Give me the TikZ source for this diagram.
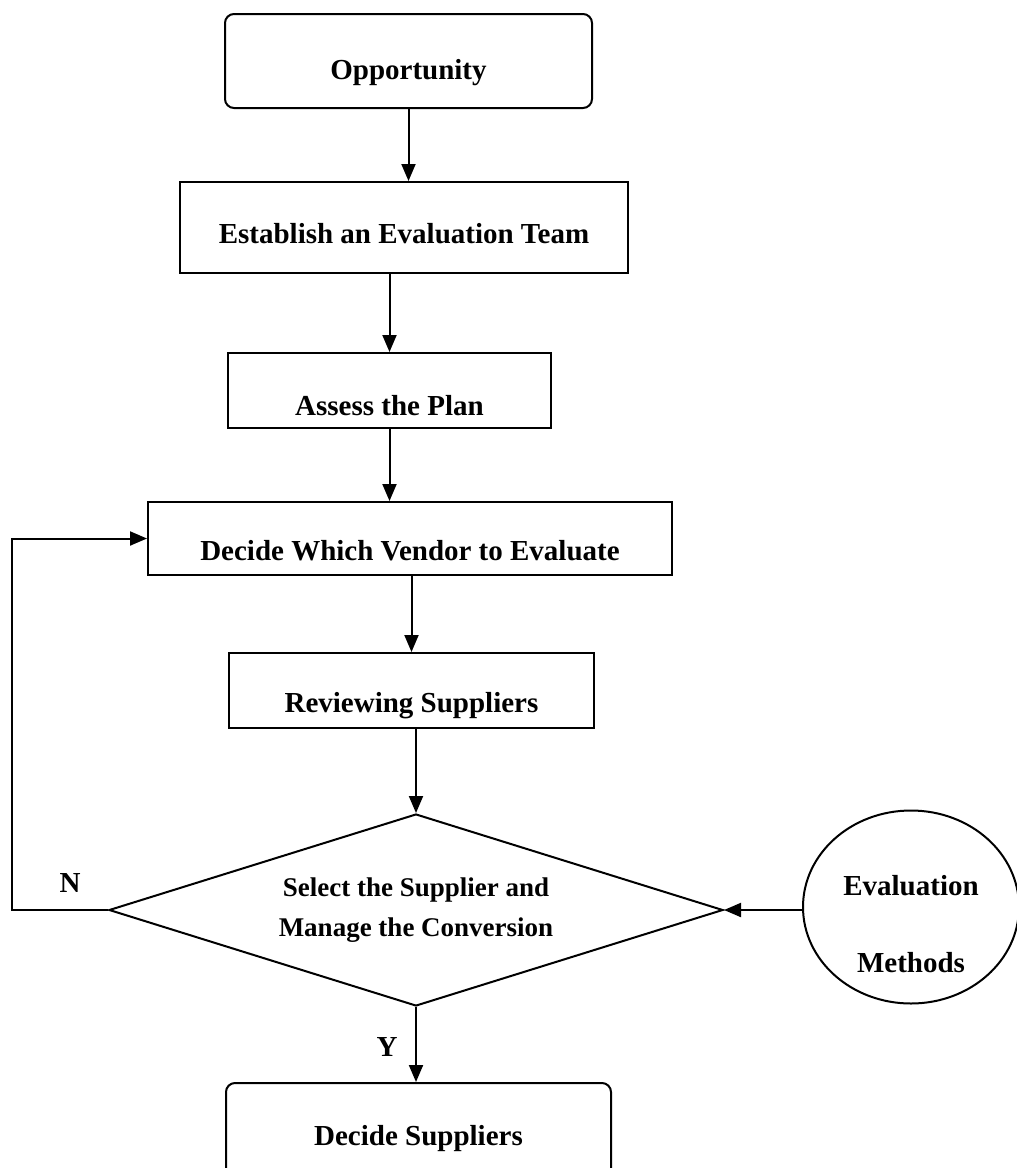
\documentclass[tikz,border=0pt]{standalone}
\usepackage{fontspec}
\setmainfont{Liberation Serif}
\usetikzlibrary{arrows.meta,shapes.geometric}

\tikzset{
  every node/.style={font=\bfseries\fontsize{29}{34}\selectfont, inner sep=0pt},
  stepbox/.style={draw, line width=2pt, align=center, text depth=0pt},
  roundbox/.style={stepbox, rounded corners=9pt},
  decision/.style={draw, line width=2pt, shape=diamond, aspect=3.2, align=center,
    font=\bfseries\fontsize{27}{40}\selectfont},
  source/.style={draw, line width=2pt, shape=ellipse, align=center,
    font=\bfseries\fontsize{29}{77}\selectfont},
  flow/.style={line width=2pt, -{Triangle[width=14pt,length=17pt]}},
  tag/.style={font=\bfseries\fontsize{29}{34}\selectfont}
}

\begin{document}
\begin{tikzpicture}[x=1pt,y=-1pt]
  \useasboundingbox (0,0) rectangle (1017,1168);

  % process steps
  \node[roundbox, minimum width=367pt, minimum height=94pt, text height=36pt]
    (opp) at (408.5,61) {Opportunity};
  \node[stepbox, minimum width=448pt, minimum height=91pt, text height=31pt]
    (team) at (404,227.5) {Establish an Evaluation Team};
  \node[stepbox, minimum width=323pt, minimum height=75pt, text height=49pt]
    (plan) at (389.5,390.5) {Assess the Plan};
  \node[stepbox, minimum width=524pt, minimum height=73pt, text height=43pt]
    (vendor) at (410,538.5) {Decide Which Vendor to Evaluate};
  \node[stepbox, minimum width=365pt, minimum height=75pt, text height=43pt]
    (review) at (411.5,690.5) {Reviewing Suppliers};

  % decision and its input
  \node[decision, minimum width=614pt, minimum height=192pt]
    (select) at (416,910) {Select the Supplier and\\Manage the Conversion};
  \node[source, minimum width=216pt, minimum height=193pt,
        text height=130pt, text depth=0pt]
    (methods) at (911,907) {Evaluation\\Methods};

  % outcome
  \node[roundbox, minimum width=385pt, minimum height=108pt, text height=16pt]
    (final) at (418.5,1137) {Decide Suppliers};

  % connectors
  \draw[flow] (opp.south) -- (opp.south |- team.north);
  \draw[flow] (plan.north |- team.south) -- (plan.north);
  \draw[flow] (plan.south) -- (plan.south |- vendor.north);
  \draw[flow] (review.north |- vendor.south) -- (review.north);
  \draw[flow] (select.north |- review.south) -- (select.north);
  \draw[flow] (methods.west |- select.east) -- (select.east);
  \coordinate (loop) at (12,910);
  \draw[flow] (select.west) -- (loop) -- (loop |- vendor.west) -- (vendor.west);
  \draw[flow] (select.south) -- (select.south |- final.north);

  % branch labels
  \node[tag] (no) at (70,883) {N};
  \node[tag] (yes) at (387,1047) {Y};
\end{tikzpicture}
\end{document}
